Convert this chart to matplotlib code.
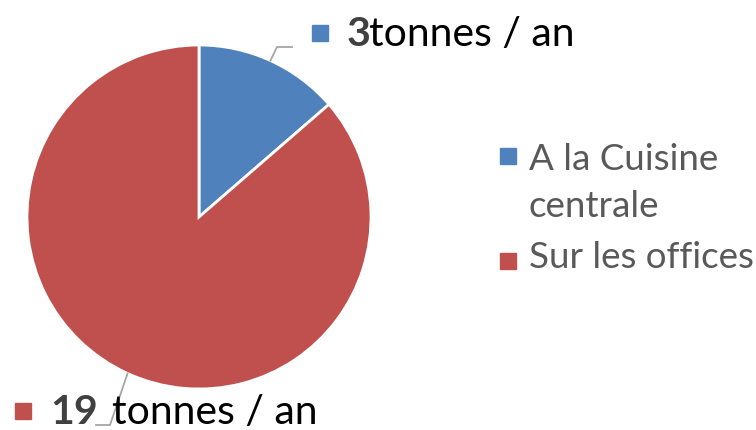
import numpy as np
import matplotlib.pyplot as plt
from matplotlib.patches import Rectangle

plt.rcParams['font.family'] = ['Lato', 'DejaVu Sans']

categories = ['A la Cuisine\ncentrale', 'Sur les offices']
tonnes = [3, 19]
colors = ['#4F81BD', '#C0504D']
unit = 'tonnes / an'

W, H = 756, 430
fig = plt.figure(figsize=(W / 100, H / 100), dpi=100)

def fx(x):
    return x / W

def fy(y):
    return 1 - y / H

# pie axes: centre (199, 217) px, radius 172 px
cx, cy, r = 199, 217, 172
ax = fig.add_axes([fx(cx - r), fy(cy + r), 2 * r / W, 2 * r / H])
wedges, _ = ax.pie(tonnes, colors=colors, startangle=90, counterclock=False,
                   wedgeprops=dict(edgecolor='white', linewidth=2))
ax.set_xlim(-1, 1)
ax.set_ylim(-1, 1)
ax.axis('off')

def to_px(angle):
    a = np.deg2rad(angle)
    return cx + r * np.cos(a), cy - r * np.sin(a)

# leader lines from the middle of each wedge
leader_col = '#A6A6A6'
mids = [(w.theta1 + w.theta2) / 2 for w in wedges]
x0, y0 = to_px(mids[0])
fig.add_artist(plt.Line2D([fx(x0), fx(277), fx(292)], [fy(y0), fy(47), fy(47)],
                          color=leader_col, lw=1.3))
x1, y1 = to_px(mids[1])
fig.add_artist(plt.Line2D([fx(x1), fx(110), fx(96)], [fy(y1), fy(425), fy(425)],
                          color=leader_col, lw=1.3))

fs = 29.5
fs_leg = 26.5

sq = 16
def square(x, y, c):
    fig.add_artist(Rectangle((fx(x), fy(y + sq)), sq / W, sq / H, color=c,
                             transform=fig.transFigure))

# data labels
square(312, 25, colors[0])
fig.text(fx(347), fy(46), str(tonnes[0]), fontsize=fs, fontweight='bold',
         color='#404040', va='baseline')
fig.text(fx(369), fy(46), unit, fontsize=fs, color='black', va='baseline')

square(15, 403, colors[1])
fig.text(fx(50), fy(424), str(tonnes[1]), fontsize=fs, fontweight='bold',
         color='#404040', va='baseline')
fig.text(fx(112), fy(424), unit, fontsize=fs, color='black', va='baseline')

# legend
leg_col = '#595959'
square(500, 148, colors[0])
line_a, line_b = categories[0].split('\n')
fig.text(fx(529), fy(170), line_a, fontsize=fs_leg, color=leg_col, va='baseline')
fig.text(fx(529), fy(217), line_b, fontsize=fs_leg, color=leg_col, va='baseline')
square(500, 253, colors[1])
fig.text(fx(529), fy(268), categories[1], fontsize=fs_leg, color=leg_col,
         va='baseline')

fig.savefig('out.png', dpi=100)
